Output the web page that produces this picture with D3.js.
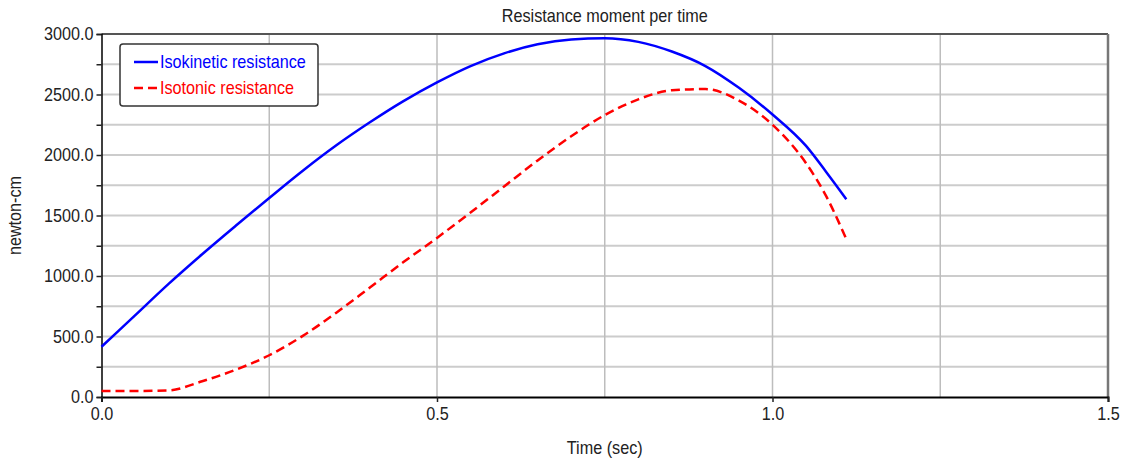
<!DOCTYPE html>
<html>
<head>
<meta charset="utf-8">
<script src="https://cdn.jsdelivr.net/npm/d3@7"></script>
<style>
  body { margin: 0; background: #fff; }
  text { font-family: "Liberation Sans", Arial, sans-serif; }
</style>
</head>
<body>
<div id="chart"></div>
<script>
(function () {

  /***** Data *****/
  var time = [0, 0.05, 0.1, 0.15, 0.2, 0.25, 0.3, 0.35, 0.4, 0.45, 0.5, 0.55,
              0.6, 0.65, 0.7, 0.75, 0.8, 0.85, 0.9, 0.95, 1.0, 1.05, 1.08, 1.11]
  var isokinetic = [415, 675, 935, 1180, 1415, 1645, 1870, 2080, 2270, 2445, 2600, 2735,
                    2840, 2915, 2955, 2965, 2935, 2855, 2735, 2555, 2335, 2075, 1860, 1635]
  var isotonic = [50, 50, 55, 130, 225, 345, 505, 697, 905, 1115, 1315, 1525,
                  1740, 1955, 2155, 2330, 2460, 2535, 2545, 2450, 2250, 1932, 1660, 1305]
  var seriesNames = ["Isokinetic resistance", "Isotonic resistance"]
  var xTicks = [0, 0.5, 1.0, 1.5]
  var yTicks = [0, 500, 1000, 1500, 2000, 2500, 3000]

  /***** Configuration *****/
  var margin = { top: 34, right: 14, bottom: 65, left: 101.5 }
  var width = 1122 - margin.left - margin.right
  var height = 462 - margin.top - margin.bottom
  var squeeze = "scale(0.9,1)"   // narrow look of the original font

  var svg = d3.select("#chart")
    .append("svg")
    .attr("width", 1122)
    .attr("height", 462)

  var g = svg.append("g")
    .attr("transform", "translate(" + margin.left + "," + margin.top + ")")

  var x = d3.scaleLinear().domain([0, 1.5]).range([0, width])
  var y = d3.scaleLinear().domain([0, 3000]).range([height, 0])

  // grid
  g.append("g")
    .selectAll("line")
    .data(d3.range(250, 3000, 250))
    .join("line")
    .attr("x1", 0).attr("x2", width)
    .attr("y1", d => y(d)).attr("y2", d => y(d))
    .attr("stroke", "#cccccc")
    .attr("stroke-width", 2)

  g.append("g")
    .selectAll("line")
    .data(d3.range(0.25, 1.5, 0.25))
    .join("line")
    .attr("y1", 0).attr("y2", height)
    .attr("x1", d => x(d)).attr("x2", d => x(d))
    .attr("stroke", "#bdbdbd")
    .attr("stroke-width", 1.5)

  // frame
  g.append("line").attr("x1", 0).attr("x2", width).attr("y1", 0).attr("y2", 0)
    .attr("stroke", "#555").attr("stroke-width", 2)
  g.append("line").attr("x1", width).attr("x2", width).attr("y1", 0).attr("y2", height)
    .attr("stroke", "#777").attr("stroke-width", 2.5)

  // axes
  var yAxis = g.append("g")
    .call(d3.axisLeft(y).tickValues(d3.range(0, 3001, 250)).tickSize(5)
      .tickFormat(d => yTicks.includes(d) ? d3.format(".1f")(d) : ""))
  yAxis.select(".domain").attr("stroke", "#000").attr("stroke-width", 1.5)
  yAxis.selectAll(".tick line").attr("stroke", "#222").attr("stroke-width", 1.5)
  yAxis.selectAll(".tick text")
    .attr("font-size", 18)
    .attr("fill", "#222")
    .attr("font-family", null)
    .attr("transform", squeeze)
    .attr("x", -9)

  var xAxis = g.append("g")
    .attr("transform", "translate(0," + height + ")")
    .call(d3.axisBottom(x).tickValues(xTicks).tickSize(5).tickFormat(d3.format(".1f")))
  xAxis.select(".domain").attr("stroke", "#000").attr("stroke-width", 2)
  xAxis.selectAll(".tick line").attr("stroke", "#222").attr("stroke-width", 1.5)
  xAxis.selectAll(".tick text")
    .attr("font-size", 18)
    .attr("fill", "#222")
    .attr("font-family", null)
    .attr("transform", squeeze)
    .attr("y", 10)

  // lines
  var line = d3.line()
    .x((d, i) => x(time[i]))
    .y(d => y(d))
    .curve(d3.curveMonotoneX)

  g.append("path")
    .attr("d", line(isokinetic))
    .attr("fill", "none")
    .attr("stroke", "#0000ff")
    .attr("stroke-width", 2.5)

  g.append("path")
    .attr("d", line(isotonic))
    .attr("fill", "none")
    .attr("stroke", "#ff0000")
    .attr("stroke-width", 2.5)
    .attr("stroke-dasharray", "9,5")

  // labels
  function label(tx, ty, rot, str) {
    svg.append("text")
      .attr("transform", "translate(" + tx + "," + ty + ")" + (rot ? " rotate(-90)" : "") + " " + squeeze)
      .attr("text-anchor", "middle")
      .attr("font-size", 18)
      .attr("fill", "#222")
      .text(str)
  }
  label(margin.left + width / 2, 22, false, "Resistance moment per time")
  label(margin.left + width / 2, 454, false, "Time (sec)")
  label(21, margin.top + height / 2, true, "newton-cm")

  // legend
  var legend = svg.append("g").attr("transform", "translate(120,44)")
  legend.append("rect")
    .attr("width", 198).attr("height", 62)
    .attr("rx", 3)
    .attr("fill", "#fff")
    .attr("stroke", "#333")
    .attr("stroke-width", 1.5)

  var colors = ["#0000ff", "#ff0000"]
  seriesNames.forEach(function (name, i) {
    var ly = 18 + i * 26
    legend.append("line")
      .attr("x1", 14).attr("x2", 38)
      .attr("y1", ly).attr("y2", ly)
      .attr("stroke", colors[i])
      .attr("stroke-width", 2.5)
      .attr("stroke-dasharray", i ? "9,5" : null)
    legend.append("text")
      .attr("transform", "translate(40," + (ly + 6) + ") " + squeeze)
      .attr("font-size", 18)
      .attr("fill", colors[i])
      .text(name)
  })

})()
</script>
</body>
</html>
